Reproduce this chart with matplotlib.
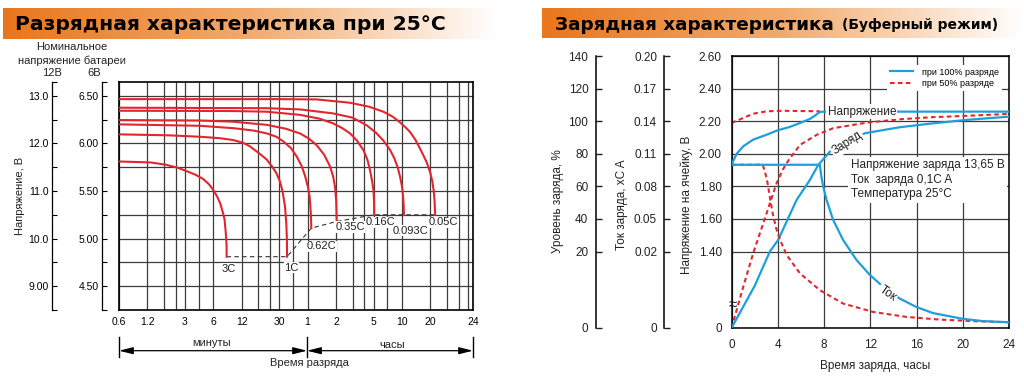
import numpy as np
import matplotlib.pyplot as plt
from matplotlib.colors import LinearSegmentedColormap
from matplotlib.lines import Line2D
from matplotlib.ticker import NullFormatter

plt.rcParams['font.family'] = ['Liberation Sans', 'DejaVu Sans']

# ---------------- разрядные кривые (минуты, В на 6В батарею) ----------------
rates = ['3C', '1C', '0.62C', '0.35C', '0.16C', '0.093C', '0.05C']

t_3C = [0.6, 1.3, 1.9, 2.5, 3.1, 3.9, 4.7, 5.4, 6.0, 6.6, 7.1, 7.5, 7.9, 8.15, 8.3, 8.3]
v_3C = [5.81, 5.80, 5.775, 5.745, 5.71, 5.67, 5.625, 5.57, 5.51, 5.44, 5.37, 5.29, 5.20, 5.05, 4.92, 4.81]

t_1C = [0.6, 2.0, 4.3, 7.0, 9.8, 12.5, 14.6, 18.7, 22.1, 25.5, 28.1, 30.5, 32.5, 34.5, 35.6, 36.2, 36.3]
v_1C = [6.095, 6.085, 6.07, 6.055, 6.035, 6.005, 5.97, 5.89, 5.83, 5.75, 5.685, 5.60, 5.50, 5.34, 5.17, 4.98, 4.81]

t_062C = [0.6, 4.3, 9.8, 16, 22.1, 28, 33.2, 40, 46.1, 52, 56.7, 60.5, 63, 65, 65.6]
v_062C = [6.20, 6.185, 6.16, 6.135, 6.105, 6.07, 6.02, 5.95, 5.86, 5.76, 5.65, 5.54, 5.44, 5.25, 5.11]

t_035C = [0.6, 4.3, 9.8, 22.1, 35, 49.7, 62, 75, 90, 104, 112, 117, 120.5, 122]
v_035C = [6.245, 6.24, 6.228, 6.195, 6.155, 6.105, 6.05, 5.98, 5.88, 5.755, 5.65, 5.545, 5.40, 5.18]

t_016C = [0.6, 9.8, 22.1, 49.7, 80, 112, 140, 169, 200, 234, 258, 275, 290, 299, 304, 304]
v_016C = [6.343, 6.34, 6.333, 6.30, 6.26, 6.21, 6.16, 6.105, 6.03, 5.93, 5.83, 5.72, 5.60, 5.51, 5.38, 5.25]

t_0093C = [0.6, 22, 50, 112, 180, 254, 320, 381, 450, 500, 540, 573, 600, 615, 625, 630]
v_0093C = [6.375, 6.37, 6.357, 6.315, 6.27, 6.19, 6.11, 6.03, 5.93, 5.84, 5.75, 5.65, 5.55, 5.46, 5.36, 5.25]

t_005C = [0.6, 30, 75, 169, 270, 381, 480, 573, 660, 731, 831, 950, 1100, 1200, 1260, 1300, 1330, 1349]
v_005C = [6.465, 6.465, 6.462, 6.427, 6.385, 6.333, 6.28, 6.22, 6.165, 6.12, 6.04, 5.93, 5.80, 5.69, 5.60, 5.51, 5.40, 5.25]

times = [t_3C, t_1C, t_062C, t_035C, t_016C, t_0093C, t_005C]
volts = [v_3C, v_1C, v_062C, v_035C, v_016C, v_0093C, v_005C]

x_ticks = [0.6, 1.2, 3, 6, 12, 30, 60, 120, 300, 600, 1200]
x_labels = ['0.6', '1.2', '3', '6', '12', '30', '1', '2', '5', '10', '20']
X_MAX = 3400

# ---------------- зарядные кривые (часы) ----------------
v100_t = [0, 0.44, 1.02, 1.88, 3.04, 3.99, 5.05, 5.92, 6.78, 7.21, 7.64, 8.1, 24]
v100 = [1.934, 2.00, 2.047, 2.088, 2.118, 2.145, 2.166, 2.19, 2.215, 2.235, 2.258, 2.26, 2.26]

v50_t = [0, 1.02, 1.88, 3.04, 4.4, 7.64]
v50 = [2.19, 2.221, 2.247, 2.262, 2.265, 2.262]

q100_t = [0, 2.0, 3.32, 4.04, 5.63, 6.78, 7.5, 8.51, 11.53, 14.55, 17.43, 20.31, 24]
q100 = [0, 11, 20, 27.2, 51.7, 64, 73.2, 81.4, 92.7, 96.4, 98.8, 100.9, 102.9]

q50_t = [0, 1.0, 1.88, 3.04, 3.9, 4.45, 4.95, 5.92, 7.36, 8.79, 11.68, 14.55, 17.43, 20.31, 24]
q50 = [0, 10.6, 19.6, 43.6, 62, 70.5, 76.3, 85.5, 91.7, 95.8, 99.2, 101.3, 102.6, 103.4, 104.6]

i100_t = [0, 7.64, 7.79, 7.93, 8.22, 8.79, 9.65, 10.81, 11.96, 13.11, 14.55, 15.99, 17.43, 20.0, 21.74, 24]
i100 = [0.10, 0.10, 0.088, 0.080, 0.0676, 0.0492, 0.0307, 0.0178, 0.0139, 0.0108, 0.0077, 0.0055, 0.0039, 0.0024, 0.0018, 0.0015]

i50_t = [0, 2.7, 2.9, 3.1, 3.3, 3.55, 3.85, 4.2, 4.77, 5.92, 7.64, 9.65, 12.25, 15.13, 18.0, 20.88, 24]
i50 = [0.10, 0.10, 0.0934, 0.0842, 0.0713, 0.0557, 0.0419, 0.0307, 0.0191, 0.0143, 0.0099, 0.0064, 0.0042, 0.0029, 0.0022, 0.0018, 0.0015]

RED = '#E3262D'
BLUE = '#1E9FDB'
GRID = '#3c3c3c'


def piecewise(brk, step, low=2.35):
    # нижний участок шкалы (ниже разрыва) сжат
    def fwd(v):
        v = np.asarray(v, dtype=float)
        return np.where(v < brk, v / brk * low, low + (v - brk) / step)

    def inv(u):
        u = np.asarray(u, dtype=float)
        return np.where(u < low, u / low * brk, brk + (u - low) * step)
    return fwd, inv


fig = plt.figure(figsize=(10.24, 3.77), dpi=100)

# подложка для заголовков и подписей (координаты в пикселях)
ov = fig.add_axes([0, 0, 1, 1])
ov.patch.set_visible(False)
ov.axis('off')
grad = np.linspace(0, 1, 256).reshape(1, -1)
cmap = LinearSegmentedColormap.from_list('bar', ['#E9761C', '#F3AA6C', '#FFFFFF'])
ov.imshow(grad, cmap=cmap, extent=(3, 497, 39.3, 8.3), aspect='auto')
ov.imshow(grad, cmap=cmap, extent=(541.7, 1022, 38.3, 8.3), aspect='auto')
ov.set_xlim(0, 1024)
ov.set_ylim(377, 0)

ov.text(15, 25, 'Разрядная характеристика при 25°C', fontsize=14.6, fontweight='bold',
        family='DejaVu Sans', va='center', ha='left')
ov.text(555, 24.5, 'Зарядная характеристика', fontsize=13.2, fontweight='bold',
        family='DejaVu Sans', va='center', ha='left')
ov.text(842, 25.5, '(Буферный режим)', fontsize=10, fontweight='bold',
        family='DejaVu Sans', va='center', ha='left')

ov.text(72, 47, 'Номинальное', fontsize=8, ha='center', va='center', color='#222')
ov.text(72, 61, 'напряжение батареи', fontsize=8, ha='center', va='center', color='#222')
ov.text(52, 73, '12В', fontsize=8, ha='center', va='center', color='#222')
ov.text(94, 73, '6В', fontsize=8, ha='center', va='center', color='#222')
ov.text(20, 196, 'Напряжение, В', fontsize=8, rotation=90, ha='center', va='center', color='#222')

# стрелки "минуты / часы"
for xx in (119, 307, 473):
    ov.plot([xx, xx], [337, 357], color='k', lw=1)
for a, b in ((119, 307), (307, 473)):
    ov.annotate('', xy=(a, 350.7), xytext=(b, 350.7),
                arrowprops=dict(arrowstyle='<|-|>,head_length=0.6,head_width=0.15',
                                color='k', lw=0.9, mutation_scale=14,
                                shrinkA=0, shrinkB=0))
ov.text(212, 343, 'минуты', fontsize=8, ha='center', va='center', color='#222')
ov.text(392, 344.5, 'часы', fontsize=8, ha='center', va='center', color='#222')
ov.text(309, 362.5, 'Время разряда', fontsize=8, ha='center', va='center', color='#222')

ov.text(558, 201, 'Уровень заряда, %', fontsize=8.5, rotation=90, ha='center', va='center', color='#222')
ov.text(621.7, 205, 'Ток заряда, xC A', fontsize=8.5, rotation=90, ha='center', va='center', color='#222')
ov.text(686.7, 205, 'Напряжение на ячейку, В', fontsize=8.5, rotation=90, ha='center', va='center', color='#222')
ov.text(875, 366, 'Время заряда, часы', fontsize=8.5, ha='center', va='center', color='#222')

# ---------------- левый график ----------------
axL = fig.add_axes([119 / 1024, 1 - 310 / 377, 354 / 1024, 228 / 377])
for rate, t, v in zip(rates, times, volts):
    axL.plot(t, v, color=RED, lw=1.5, zorder=3)

end_t = [t[-1] for t in times]
end_v = [v[-1] for v in volts]
axL.plot(end_t, end_v, color='#333', lw=0.8, ls=(0, (4, 3)), zorder=2.5)

label_off = [(1.2, -8.6), (3.2, -8.1), (7.7, -13), (9.6, -4), (4.3, -5.5), (4.8, -11.5), (6, -5.5)]
for rate, xe, ye, off in zip(rates, end_t, end_v, label_off):
    axL.annotate(rate, xy=(xe, ye), xytext=off, textcoords='offset points',
                 ha='center', va='center', fontsize=8, color='#222', zorder=4,
                 bbox=dict(fc='white', ec='none', pad=0.4))

axL.set_xscale('log')
axL.set_xlim(0.6, X_MAX)
axL.set_ylim(4.25, 6.645)
grid_x = [0.6 * m * 10 ** k for k in range(4) for m in (1, 2, 3, 4, 5, 7)]
grid_x = [g for g in grid_x if g < X_MAX]
axL.set_xticks(grid_x, minor=True)
axL.xaxis.set_minor_formatter(NullFormatter())
axL.set_xticks(x_ticks + [X_MAX], x_labels + ['24'])
axL.set_yticks(np.arange(4.5, 6.51, 0.25))
axL.tick_params(axis='both', which='both', length=0, labelsize=7.5, pad=5, labelleft=False)
axL.grid(True, which='both', color=GRID, lw=0.9)
for s in axL.spines.values():
    s.set_linewidth(1.2)

ax6 = axL.twinx()
ax12 = axL.twinx()
for ax, out, lo, hi, step, lab_vals, fmt in (
        (ax6, 12.5, 4.25, 6.645, 0.25, [4.5, 5.0, 5.5, 6.0, 6.5], '{:.2f}'),
        (ax12, 48.5, 8.5, 13.29, 0.5, [9, 10, 11, 12, 13], None)):
    ax.set_ylim(lo, hi)
    ax.yaxis.tick_left()
    for s in ('top', 'right', 'bottom'):
        ax.spines[s].set_visible(False)
    ax.spines['left'].set_position(('outward', out))
    ax.spines['left'].set_linewidth(0.9)
    ticks = list(np.arange(lo + (0.25 if ax is ax6 else 0), hi - 0.01, step)) + [hi]
    ticks = [lo] + [tk for tk in ticks if tk > lo]
    labs = []
    for tk in ticks:
        hit = [lv for lv in lab_vals if abs(lv - tk) < 1e-6]
        if hit:
            labs.append(fmt.format(hit[0]) if fmt else ('9.00' if hit[0] == 9 else '{:.1f}'.format(hit[0])))
        else:
            labs.append('')
    ax.set_yticks(ticks, labs)
    ax.tick_params(axis='y', direction='in', length=3.5, width=0.8, pad=2, labelsize=7.5)

# ---------------- правый график ----------------
rect = [731.5 / 1024, 1 - 328 / 377, 277.5 / 1024, 271.7 / 377]
axV = fig.add_axes(rect)
axQ = axV.twinx()
axI = axV.twinx()

axV.set_yscale('function', functions=piecewise(1.40, 0.2))
axQ.set_yscale('function', functions=piecewise(20, 20))
axI.set_yscale('function', functions=piecewise(0.02, 0.03))

axV.plot(v50_t, v50, color=RED, lw=1.5, dashes=(2.2, 1.6), zorder=2)
axV.plot(v100_t, v100, color=BLUE, lw=1.6, zorder=3)
axQ.plot(q50_t, q50, color=RED, lw=1.5, dashes=(2.2, 1.6), zorder=2)
axQ.plot(q100_t, q100, color=BLUE, lw=1.6, zorder=3)
axI.plot(i50_t, i50, color=RED, lw=1.5, dashes=(2.2, 1.6), zorder=2)
axI.plot(i100_t, i100, color=BLUE, lw=1.6, zorder=3)

axV.set_xlim(0, 24)
axV.set_ylim(0, 2.6)
axQ.set_ylim(0, 140)
axI.set_ylim(0, 0.2)

v_ticks = [0, 1.4, 1.6, 1.8, 2.0, 2.2, 2.4, 2.6]
axV.set_yticks(v_ticks, ['0'] + ['{:.2f}'.format(v) for v in v_ticks[1:]])
axV.set_xticks(range(0, 25, 4))
axV.tick_params(axis='both', length=0, labelsize=8.5, colors='#222')
axV.tick_params(axis='x', pad=8)
axV.tick_params(axis='y', pad=7)
axV.grid(True, color=GRID, lw=0.9)
for s in axV.spines.values():
    s.set_linewidth(1.1)

q_ticks = [0, 20, 40, 60, 80, 100, 120, 140]
i_ticks = [0, 0.02, 0.05, 0.08, 0.11, 0.14, 0.17, 0.20]
axQ.set_yticks(q_ticks, [str(q) for q in q_ticks])
axI.set_yticks(i_ticks, ['0'] + ['{:.2f}'.format(i) for i in i_ticks[1:]])
for ax, out, pad in ((axQ, 97.6, 5.5), (axI, 48.6, 5)):
    ax.yaxis.tick_left()
    for s in ('top', 'right', 'bottom'):
        ax.spines[s].set_visible(False)
    ax.spines['left'].set_position(('outward', out))
    ax.spines['left'].set_linewidth(1.1)
    ax.tick_params(axis='y', direction='in', length=4, width=1, pad=pad, labelsize=8.5, colors='#222')

# подписи на графике
box = dict(fc='white', ec='none', pad=1)
axI.text(11.27, 2.26, 'Напряжение', transform=axV.transData, fontsize=8.5, color='#222',
         ha='center', va='center', bbox=box, zorder=5)
axI.text(10.0, 86.5, 'Заряд', transform=axQ.transData, fontsize=8.5, color='#222',
         rotation=33, ha='center', va='center', bbox=box, zorder=5)
axI.text(13.5, 0.0091, 'Ток', transform=axI.transData, fontsize=8.5, color='#222',
         rotation=-35, ha='center', va='center', bbox=box, zorder=5)
axI.text(10.3, 1.842, 'Напряжение заряда 13,65 В\nТок  заряда 0,1C A\nТемпература 25°C',
         transform=axV.transData, fontsize=8.5, color='#222', ha='left', va='center',
         linespacing=1.25, bbox=dict(fc='white', ec='none', pad=2), zorder=5)
axI.text(0.006, 0.085, '≈', transform=axV.transAxes, fontsize=11, ha='center', va='center',
         color='#222', zorder=5)

handles = [Line2D([], [], color=BLUE, lw=1.6),
           Line2D([], [], color=RED, lw=1.5, dashes=(2.2, 1.6))]
leg = axI.legend(handles, ['при 100% разряде', 'при 50% разряде'], loc='upper right',
                 bbox_to_anchor=(0.99, 0.985), fontsize=6.5, handlelength=2.6,
                 handletextpad=1.0, labelspacing=0.3, borderpad=0.3, frameon=True,
                 fancybox=False, framealpha=1, facecolor='white', edgecolor='none')

fig.savefig('out.png', dpi=100)
